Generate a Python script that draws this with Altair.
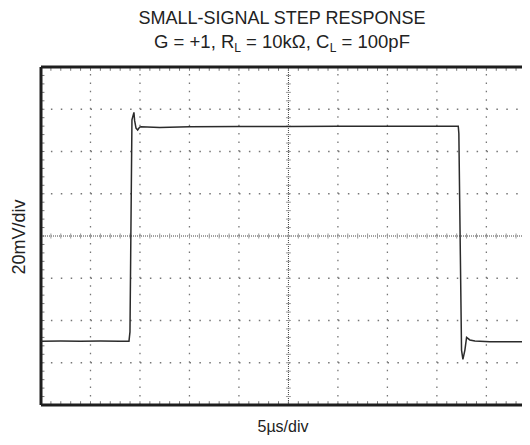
import altair as alt
import pandas as pd

# ---- signal (time in microseconds, output in millivolts) ----
time_us = [0.0, 2.0, 4.0, 6.0, 8.0, 8.89, 8.99, 9.19, 9.39, 9.46, 9.60, 9.77, 9.95, 10.1,
           12.0, 15.0, 20.0, 25.0, 30.0, 35.0, 40.0, 42.16, 42.22, 42.49, 42.63, 42.83,
           43.0, 43.33, 43.84, 45.35, 48.6]
volt_mV = [-49.8, -49.7, -49.8, -49.7, -49.8, -49.8, -45.4, 55.0, 58.5, 54.6, 51.1, 50.2, 51.4, 51.7,
           51.4, 51.7, 51.8, 51.8, 51.9, 51.9, 52.0, 52.0, 48.5, -54.0, -58.4, -54.0,
           -48.0, -49.2, -49.7, -50.0, -50.0]

# ---- scope graticule ----
X_MAX = 48.6                     # the right part of the 10th division is cropped at the image edge
Y_MIN, Y_MAX = -80, 80
div_x = [5, 10, 15, 20, 30, 35, 40, 45]
div_y = [-60, -40, -20, 20, 40, 60]
minor_x = [float(i) for i in range(0, 49)]
minor_y = list(range(-76, 80, 4))

# ---- texts ----
title_line1 = "SMALL-SIGNAL STEP RESPONSE"
title_line2 = ["G = +1, R", "L", "= 10k\u03a9, C", "L", "= 100pF"]
y_title = "20mV/div"
x_title = "5\u00b5s/div"

xs = alt.Scale(domain=[0, X_MAX], nice=False, zero=False)
ys = alt.Scale(domain=[Y_MIN, Y_MAX], nice=False, zero=False)
X = lambda f: alt.X(f, type="quantitative", scale=xs, axis=None)
Y = lambda f: alt.Y(f, type="quantitative", scale=ys, axis=None)

layers = []

# dotted division lines
vgrid = pd.DataFrame({"x": div_x, "y": Y_MIN, "y2": Y_MAX})
layers.append(alt.Chart(vgrid).mark_rule(color="#767676", strokeWidth=1.3, strokeDash=[1.5, 6.95])
              .encode(x=X("x"), y=Y("y"), y2="y2"))
hgrid = pd.DataFrame({"y": div_y, "x": 0.0, "x2": X_MAX})
layers.append(alt.Chart(hgrid).mark_rule(color="#767676", strokeWidth=1.3, strokeDash=[1.5, 8.4])
              .encode(x=X("x"), x2="x2", y=Y("y")))

# centre crosshair
layers.append(alt.Chart(pd.DataFrame({"y": [0], "x": [0.0], "x2": [X_MAX]}))
              .mark_rule(color="#444", strokeWidth=1, strokeDash=[1, 1])
              .encode(x=X("x"), x2="x2", y=Y("y")))
layers.append(alt.Chart(pd.DataFrame({"x": [25.0], "y": [Y_MIN], "y2": [Y_MAX]}))
              .mark_rule(color="#444", strokeWidth=1, strokeDash=[1, 1])
              .encode(x=X("x"), y=Y("y"), y2="y2"))
ctick_h = pd.DataFrame({"x": minor_x, "y": -1.2, "y2": 1.2})
layers.append(alt.Chart(ctick_h).mark_rule(color="#9a9a9a", strokeWidth=1)
              .encode(x=X("x"), y=Y("y"), y2="y2"))
ctick_v = pd.DataFrame({"y": minor_y, "x": 24.75, "x2": 25.25})
layers.append(alt.Chart(ctick_v).mark_rule(color="#9a9a9a", strokeWidth=1)
              .encode(x=X("x"), x2="x2", y=Y("y")))

# minor ticks inside the frame
top_t = pd.DataFrame({"x": minor_x, "y": Y_MAX, "y2": Y_MAX - 1.8})
bot_t = pd.DataFrame({"x": minor_x, "y": Y_MIN, "y2": Y_MIN + 1.8})
left_t = pd.DataFrame({"y": minor_y, "x": 0.0, "x2": 0.35})
for d in (top_t, bot_t):
    layers.append(alt.Chart(d).mark_rule(color="#777", strokeWidth=1)
                  .encode(x=X("x"), y=Y("y"), y2="y2"))
layers.append(alt.Chart(left_t).mark_rule(color="#777", strokeWidth=1)
              .encode(x=X("x"), x2="x2", y=Y("y")))

# frame
layers.append(alt.Chart(pd.DataFrame({"x": [0.0], "y": [Y_MIN], "y2": [Y_MAX]}))
              .mark_rule(color="#1e1e1e", strokeWidth=3)
              .encode(x=X("x"), y=Y("y"), y2="y2"))
layers.append(alt.Chart(pd.DataFrame({"y": [Y_MIN, Y_MAX], "x": [0.0, 0.0], "x2": [X_MAX, X_MAX]}))
              .mark_rule(color="#1e1e1e", strokeWidth=3)
              .encode(x=X("x"), x2="x2", y=Y("y")))

# signal trace
sig = pd.DataFrame({"t": time_us, "v": volt_mV})
layers.append(alt.Chart(sig).mark_line(color="#2b2b2b", strokeWidth=1.5)
              .encode(x=X("t"), y=Y("v")))


def label(text, px, py, size, align="center", angle=0):
    kw = dict(align=align, baseline="alphabetic", font="Liberation Sans", fontSize=size, color="#222")
    if angle:
        kw["angle"] = angle
    return alt.Chart(pd.DataFrame({"t": [text]})).mark_text(**kw).encode(
        x=alt.value(px), y=alt.value(py), text="t:N")


layers.append(label(title_line1, 241, -42.7, 18))
# second title line with subscripts (gaps stand in for the spaces after each subscript)
main_fs, sub_fs = 18.5, 12
space = 0.278 * main_fs
widths = [4.336 * main_fs, 0.556 * sub_fs + space, 4.52 * main_fs, 0.556 * sub_fs + space, 3.697 * main_fs]
x0 = 241 - sum(widths) / 2
for i, piece in enumerate(title_line2):
    is_sub = i in (1, 3)
    layers.append(label(piece, x0, -14.8 if is_sub else -18.7, sub_fs if is_sub else main_fs, align="left"))
    x0 += widths[i]

layers.append(label(y_title, -16.5, 170, 18, angle=270))
layers.append(label(x_title, 242, 365, 16))

chart = alt.layer(*layers).properties(
    width=481, height=338,
    autosize=alt.AutoSizeParams(type="none"),
    padding={"left": 33, "top": 59, "right": 0, "bottom": 30},
).configure_view(strokeWidth=0)

chart.save("out.html", embed_options={"renderer": "svg", "actions": False})
